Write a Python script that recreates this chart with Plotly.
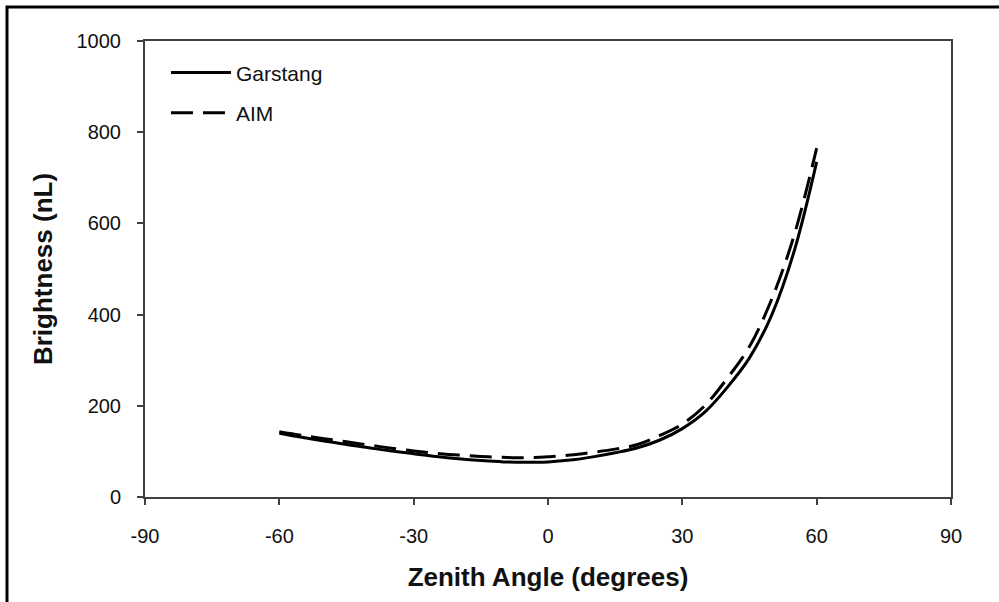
import plotly.graph_objects as go

zenith = [-60, -55, -50, -45, -40, -35, -30, -25, -20, -15, -10, -5, 0,
          5, 10, 15, 20, 25, 30, 35, 40, 45, 50, 55, 60]
garstang = [140, 131, 123, 115, 108, 101, 95, 89, 84, 80, 77, 76, 77,
            81, 88, 97, 108, 125, 150, 186, 240, 305, 400, 540, 735]
aim = [143, 135, 128, 121, 114, 107, 101, 96, 92, 89, 87, 86, 88,
       92, 98, 105, 115, 135, 160, 200, 260, 330, 435, 575, 765]
x_ticks = [-90, -60, -30, 0, 30, 60, 90]
x_tick_text = ["-90", "-60", "-30", "0", "30", "60", "90"]
y_ticks = [0, 200, 400, 600, 800, 1000]

FONT = "Liberation Sans, Arial, sans-serif"

fig = go.Figure()
fig.add_trace(go.Scatter(x=zenith, y=garstang, name="Garstang", mode="lines",
                         line=dict(color="black", width=3, shape="spline"),
                         legendgroup="g1"))
fig.add_trace(go.Scatter(x=zenith, y=aim, name="AIM", mode="lines",
                         line=dict(color="black", width=3, shape="spline", dash="22px,10px"),
                         legendgroup="g2"))

axis_common = dict(showgrid=False, zeroline=False, showline=True, linecolor="#404040",
                   linewidth=2, mirror=True, ticks="outside", ticklen=6, tickwidth=2,
                   tickcolor="#404040", tickfont=dict(family=FONT, size=20, color="#111"))

fig.update_xaxes(range=[-90, 90], tickvals=x_ticks, ticktext=x_tick_text, ticklabelstandoff=14,
                 title=dict(text="<b>Zenith Angle (degrees)</b>", standoff=22,
                            font=dict(family=FONT, size=26, color="#111")),
                 **axis_common)
fig.update_yaxes(range=[0, 1000], tickvals=y_ticks, ticklabelstandoff=12,
                 title=dict(text="<b>Brightness (nL)</b>", standoff=16,
                            font=dict(family=FONT, size=26, color="#111")),
                 **axis_common)

fig.update_layout(
    width=999, height=602,
    margin=dict(l=145, r=48, t=41, b=105, autoexpand=False),
    paper_bgcolor="white", plot_bgcolor="white",
    showlegend=True,
    legend=dict(x=0.026, y=0.975, xanchor="left", yanchor="top",
                font=dict(family=FONT, size=21, color="#111"),
                bgcolor="rgba(0,0,0,0)", tracegroupgap=10, traceorder="grouped",
                itemwidth=60),
    shapes=[dict(type="rect", xref="paper", yref="paper",
                 xsizemode="pixel", ysizemode="pixel", xanchor=0, yanchor=1,
                 x0=-138, x1=900, y0=-700, y1=34,
                 line=dict(color="black", width=3), layer="above")],
)

fig.write_html("out.html")
